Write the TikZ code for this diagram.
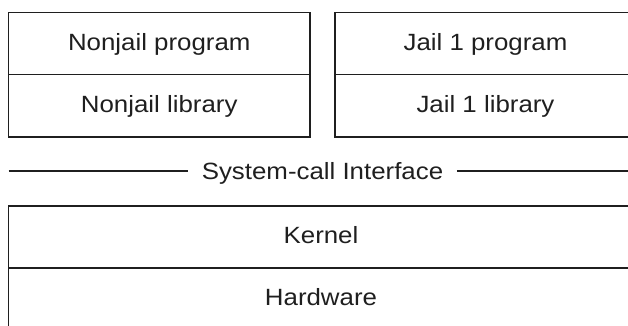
\documentclass[tikz,border=0pt]{standalone}
\usepackage{fontspec}
\setmainfont[FakeStretch=1.1]{Liberation Sans}
\begin{document}
\begin{tikzpicture}[x=1pt,y=-1pt,
  ink/.style={draw=black!88, line width=1.7pt},
  cell/.style={ink, rectangle, inner sep=0pt, text=black!88,
    font=\fontsize{23.5}{28}\selectfont, text height=16.8pt, text depth=3pt,
    minimum width=#1},
  cell/.default=301.5pt,
  caption/.style={inner xsep=13.5pt, inner ysep=0pt, text=black!88,
    font=\fontsize{23.5}{28}\selectfont, text height=16.8pt, text depth=0pt}]
  \useasboundingbox (0,0) rectangle (628,326);
  \clip (0,0) rectangle (628,326);
  % user-level blocks
  \node[cell, minimum height=62pt]   (np) at (159.25,43.5)  {Nonjail program};
  \node[cell, minimum height=62.5pt] (nl) at (159.25,105.75) {Nonjail library};
  \node[cell, minimum height=62pt]   (jp) at (485.5,43.5)   {Jail 1 program};
  \node[cell, minimum height=62.5pt] (jl) at (485.5,105.75) {Jail 1 library};
  % system-call boundary
  \node[caption] (sc) at (322.5,171) {System-call Interface};
  \coordinate (scL) at (8.5,171);
  \coordinate (scR) at (645,171);
  \draw[ink] (scL) -- (sc.west);
  \draw[ink] (sc.east) -- (scR);
  % kernel-level blocks
  \node[cell=625pt, minimum height=62pt] (kn) at (321,237) {Kernel};
  \node[cell=625pt, minimum height=62pt] (hw) at (321,299) {Hardware};
\end{tikzpicture}
\end{document}
